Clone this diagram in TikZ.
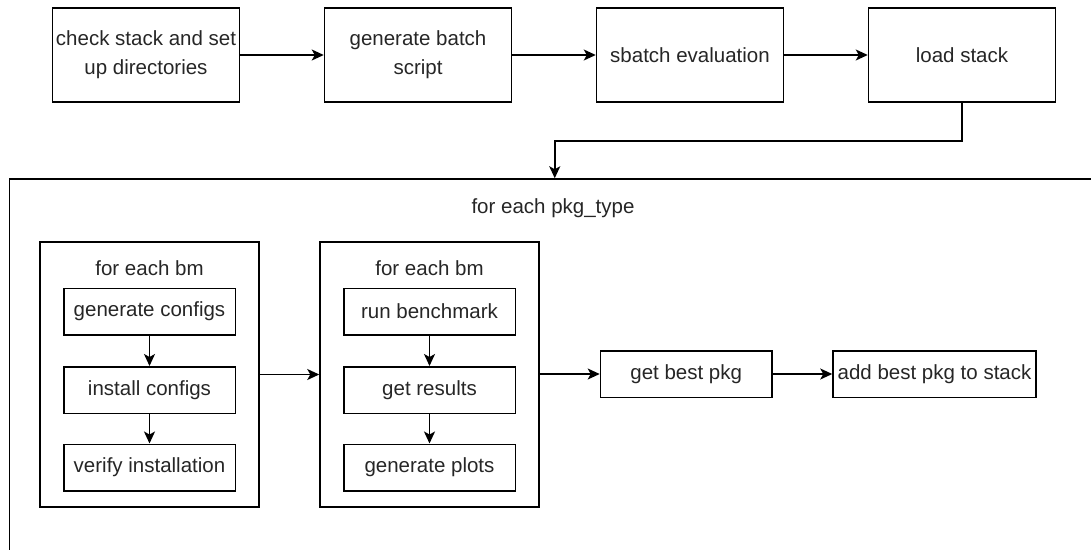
\documentclass[tikz,border=0pt]{standalone}
\usepackage{fontspec}
\setmainfont{Liberation Sans}
\usetikzlibrary{arrows.meta}
\begin{document}
\begin{tikzpicture}[x=1pt,y=-1pt,
  box/.style={draw=black, line width=1.5pt, rectangle, inner sep=0pt, align=center,
    font=\fontsize{20.5}{29}\selectfont, text=black!85},
  topbox/.style={box, minimum width=187pt, minimum height=94pt},
  subbox/.style={box, minimum width=171.5pt, minimum height=46.5pt},
  groupbox/.style={draw=black, line width=1.5pt, rectangle, inner sep=0pt,
    minimum width=219pt, minimum height=265pt},
  lbl/.style={font=\fontsize{20.5}{29}\selectfont, text=black!85, inner sep=0pt},
  arr/.style={draw=black, line width=1.5pt, -{Stealth[length=12pt,width=11pt,inset=3pt]}}
]
\useasboundingbox (0,0) rectangle (1091,549);
\clip (0,0) rectangle (1091,549);

% top row
\node[topbox] (check) at (146,55) {check stack and set\\up directories};
\node[topbox] (gen) at (418,55) {generate batch\\script};
\node[topbox] (sbatch) at (690,55) {sbatch evaluation};
\node[topbox] (load) at (962,55) {load stack};

% outer loop
\node[draw=black, line width=1.5pt, rectangle, inner sep=0pt,
  minimum width=1090.5pt, minimum height=381pt] (outer) at (554.75,369.5) {};
\node[lbl] (pkgtype) at (553,208) {for each pkg\_type};

% group boxes
\node[groupbox] (g1) at (149.5,374.5) {};
\node[groupbox] (g2) at (429.5,374.5) {};
\node[lbl] (g1lbl) at (149.5,268) {for each bm};
\node[lbl] (g2lbl) at (429.5,268) {for each bm};

\node[subbox] (genconf) at (149.5,311.5) {generate configs};
\node[subbox] (instconf) at (149.5,390) {install configs};
\node[subbox] (verify) at (149.5,467.5) {verify installation};

\node[subbox] (runbm) at (429.5,311.5) {run benchmark};
\node[subbox] (getres) at (429.5,390) {get results};
\node[subbox] (plots) at (429.5,467.5) {generate plots};

\node[subbox] (best) at (686.2,374) {get best pkg};
\node[box, minimum width=203pt, minimum height=46.5pt] (add) at (934.5,374) {add best pkg to stack};

% connectors
\draw[arr] (check) -- (gen);
\draw[arr] (gen) -- (sbatch);
\draw[arr] (sbatch) -- (load);
\coordinate (turn1) at (962,141);
\coordinate (turn2) at (554.75,141);
\draw[arr] (load.south) -- (turn1) -- (turn2) -- (outer.north);

\draw[arr] (genconf) -- (instconf);
\draw[arr] (instconf) -- (verify);
\draw[arr] (runbm) -- (getres);
\draw[arr] (getres) -- (plots);

\draw[arr] (g1.east) -- (g2.west);
\draw[arr] (g2.east |- best.west) -- (best.west);
\draw[arr] (best) -- (add);
\end{tikzpicture}
\end{document}
